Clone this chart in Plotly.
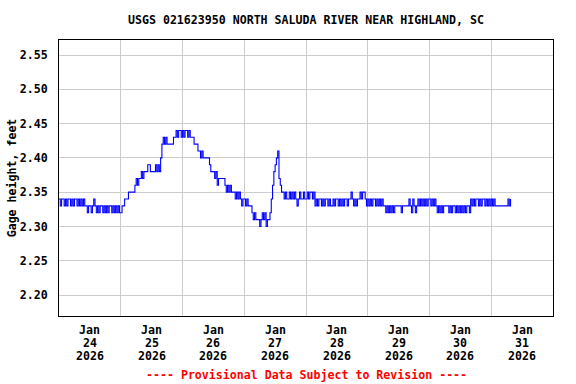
import pandas as pd
import plotly.graph_objects as go

# Gage height readings every 30 minutes, in hundredths above 2.00 ft
jan24 = [34,33,34,34,33,34,33,34,34,33,34,33,34,34,33,34,33,34,33,34,
         33,33,32,33,33,32,33,34,
         33,32,33,32,33,33,32,33,32,33,32,33,33,32,33,32,33,32,33,32]
jan25 = [32,33,33,34,34,34,35,35,35,35,35,36,37,36,37,37,38,37,38,38,
         38,39,39,38,38,38,38,39,38,39,38,40,42,43,42,43,42,42,42,42,
         42,43,43,44,43,44,44,43]
jan26 = [44,43,44,44,43,44,43,43,43,42,42,42,41,41,40,41,40,40,40,40,
         40,39,38,38,38,37,38,36,37,37,37,37,37,36,35,36,35,36,35,35,
         35,34,35,34,35,34,33,34]
jan27 = [34,33,34,33,33,33,32,31,32,31,31,31,30,31,32,31,32,30,31,31,
         32,34,36,38,39,40,41,37,36,35,35,34,35,34,34,35,34,35,34,35,
         34,33,34,35,34,34,35,34]
jan28 = [34,35,34,35,35,34,35,33,34,33,34,34,33,34,33,34,34,33,34,33,
         33,34,33,34,34,33,34,33,34,33,34,34,33,34,34,35,34,33,34,33,
         34,34,35,34,35,35,34,33]
jan29 = [34,33,34,33,34,34,33,34,33,34,33,34,33,33,32,33,32,33,32,33,
         32,33,33,33,33,33,32,33,33,33,33,33,34,33,32,34,33,32,33,34,
         33,34,33,34,33,34,33,34]
jan30 = [34,33,34,33,34,33,32,33,32,33,32,33,33,33,33,32,33,32,33,33,
         32,33,32,33,32,33,32,33,32,33,33,32,34,33,34,33,34,34,33,34,
         33,34,34,33,34,33,34,33]
jan31 = [34,33,34,33,33,33,33,33,33,33,33,33,33,34,33,34]

start_time = "2026-01-24 00:00"
axis_start = "2026-01-24 00:00"
axis_end = "2026-02-01 00:00"
y_range = [2.1694, 2.5719]
y_ticks = [2.20, 2.25, 2.30, 2.35, 2.40, 2.45, 2.50, 2.55]

# x tick labels: one per day, placed at noon
day_labels_month = ["Jan"] * 8
day_labels_day = ["24", "25", "26", "27", "28", "29", "30", "31"]
day_labels_year = ["2026"] * 8
day_centers = ["2026-01-%s 12:00" % d for d in day_labels_day]

title_text = "USGS 021623950 NORTH SALUDA RIVER NEAR HIGHLAND, SC"
y_title = "Gage height, feet"
footer_text = "---- Provisional Data Subject to Revision ----"

hundredths = jan24 + jan25 + jan26 + jan27 + jan28 + jan29 + jan30 + jan31
gage = [2 + v / 100 for v in hundredths]
times = pd.date_range(start_time, periods=len(gage), freq="30min")

FONT = "DejaVu Sans Mono"
FS = 11.6
PLOT_TOP, PLOT_BOTTOM = 40, 316


def paper_y(py):
    return (PLOT_BOTTOM - py) / (PLOT_BOTTOM - PLOT_TOP)


fig = go.Figure()
fig.add_trace(go.Scatter(
    x=times, y=gage, mode="lines",
    line=dict(color="#0000FF", width=1.1, shape="hv"),
    showlegend=False, hoverinfo="skip",
))

annotations = []
for xc, mo, dd, yy in zip(day_centers, day_labels_month, day_labels_day, day_labels_year):
    for txt, py in ((mo, 330), (dd, 343), (yy, 356)):
        annotations.append(dict(
            text="<b>%s</b>" % txt, x=xc, xref="x", y=paper_y(py), yref="paper",
            xanchor="center", yanchor="middle", showarrow=False,
            font=dict(family=FONT, size=FS, color="black"),
        ))
annotations.append(dict(
    text="<b>" + footer_text + "</b>", xref="paper", yref="paper",
    x=0.5, y=paper_y(375),
    xanchor="center", yanchor="middle", showarrow=False,
    font=dict(family=FONT, size=FS, color="#FF0000"),
))

fig.update_layout(
    width=576, height=384,
    margin=dict(l=59, r=23, t=PLOT_TOP, b=384 - PLOT_BOTTOM, autoexpand=False),
    paper_bgcolor="white", plot_bgcolor="white",
    font=dict(family=FONT, size=FS, color="black"),
    title=dict(text="<b>" + title_text + "</b>", x=306 / 576, xanchor="center",
               y=1 - 20 / 384, yanchor="middle",
               font=dict(family=FONT, size=FS, color="black")),
    xaxis=dict(
        type="date", range=[axis_start, axis_end], automargin=False,
        dtick=86400000, tick0=axis_start, showticklabels=False,
        showgrid=True, gridcolor="#cccccc", gridwidth=1,
        showline=True, linecolor="black", linewidth=1, mirror=True,
        ticks="", zeroline=False,
    ),
    yaxis=dict(
        range=y_range, tickvals=y_ticks, automargin=False,
        ticktext=["<b>%.2f</b>" % v for v in y_ticks],
        showgrid=True, gridcolor="#cccccc", gridwidth=1,
        showline=True, linecolor="black", linewidth=1, mirror=True,
        ticks="", zeroline=False,
        tickfont=dict(family=FONT, size=FS, color="black"),
        ticklabelstandoff=8,
        title=dict(text="<b>" + y_title + "</b>", standoff=0,
                   font=dict(family=FONT, size=FS, color="black")),
    ),
    annotations=annotations,
)

fig.write_html("out.html", config={"displayModeBar": False},
               post_script="document.body.style.margin='0';document.body.style.overflow='hidden';")
